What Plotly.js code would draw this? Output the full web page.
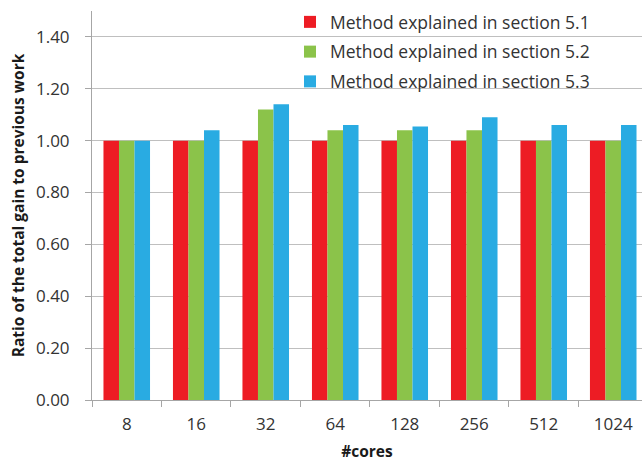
<!DOCTYPE html>
<html>
<head>
<meta charset="utf-8">
<script src="https://cdn.plot.ly/plotly-3.0.1.min.js"></script>
<style>
  html, body { margin: 0; padding: 0; background: #fff; overflow: hidden; }
  #chart { width: 642px; height: 463px; }
</style>
</head>
<body>
<div id="chart"></div>
<script>
// Core counts on the x axis
const cores = ['8', '16', '32', '64', '128', '256', '512', '1024'];

// Ratio of total gain to previous work, one series per method
const method51 = [1.00, 1.00, 1.00, 1.00, 1.00, 1.00, 1.00, 1.00];
const method52 = [1.00, 1.00, 1.12, 1.04, 1.04, 1.04, 1.00, 1.00];
const method53 = [1.00, 1.04, 1.14, 1.06, 1.055, 1.09, 1.06, 1.06];

const seriesNames = [
  'Method explained in section 5.1',
  'Method explained in section 5.2',
  'Method explained in section 5.3'
];
const colors = ['#ED1C24', '#8BC34A', '#29ABE2'];

const font = 'Open Sans, sans-serif';

const traces = [method51, method52, method53].map((vals, i) => ({
  type: 'bar',
  name: seriesNames[i],
  x: cores,
  y: vals,
  marker: { color: colors[i], line: { width: 0 } },
  legendgroup: 'g' + i,
  hoverinfo: 'x+y+name'
}));

const layout = {
  width: 642,
  height: 463,
  margin: { l: 92, r: 0, t: 11, b: 63 },
  paper_bgcolor: '#ffffff',
  plot_bgcolor: '#ffffff',
  barmode: 'group',
  bargap: 0.33,
  bargroupgap: 0,
  showlegend: true,
  legend: {
    x: 0.36, y: 1.018, xanchor: 'left', yanchor: 'top',
    bgcolor: 'rgba(0,0,0,0)',
    font: { family: font, size: 17.5, color: '#333333' },
    traceorder: 'grouped',
    tracegroupgap: 4,
    itemwidth: 30
  },
  xaxis: {
    type: 'category',
    range: [-0.5, 7.414],
    showline: true, linecolor: '#A6A6A6', linewidth: 1,
    showgrid: false,
    ticks: 'outside', ticklen: 6, tickcolor: '#A6A6A6',
    tickson: 'boundaries',
    tickfont: { family: font, size: 17, color: '#333333' },
    ticklabelstandoff: 9,
    title: { text: '#cores', font: { family: font, size: 15.5, color: '#1a1a1a', weight: 'bold' }, standoff: 11 }
  },
  yaxis: {
    range: [0, 1.5],
    tickvals: [0, 0.2, 0.4, 0.6, 0.8, 1.0, 1.2, 1.4],
    tickformat: '.2f',
    showline: true, linecolor: '#A6A6A6', linewidth: 1,
    showgrid: true, gridcolor: '#BFBFBF', gridwidth: 1,
    zeroline: false,
    ticks: 'outside', ticklen: 6, tickcolor: '#A6A6A6',
    tickfont: { family: font, size: 17, color: '#333333' },
    ticklabelstandoff: 12,
    title: { text: 'Ratio of the total gain to previous work', font: { family: font, size: 15.5, color: '#1a1a1a', weight: 'bold' }, standoff: 7 }
  }
};

Plotly.newPlot('chart', traces, layout, { displayModeBar: false, staticPlot: true });
</script>
</body>
</html>
